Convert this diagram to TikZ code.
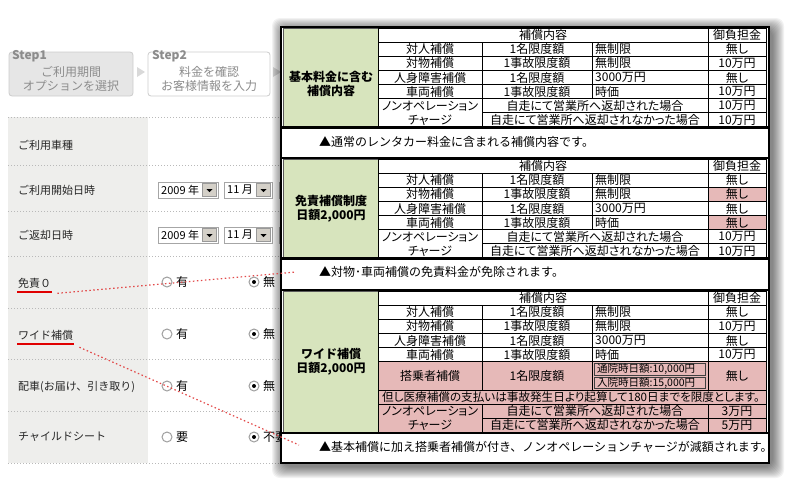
\documentclass[tikz,border=0pt]{standalone}
\usepackage{fontspec}
\setmainfont{Noto Sans CJK JP}
\newfontfamily\tabfont[RawFeature=+palt]{Noto Sans CJK JP}
\definecolor{greencell}{HTML}{D7E4BD}
\definecolor{pinkcell}{HTML}{E6B9B8}
\definecolor{formgray}{HTML}{EEEEEC}
\definecolor{stepfill}{HTML}{E6E6E6}
\definecolor{steptext}{HTML}{8C8C8C}
\definecolor{ulred}{HTML}{E00000}
\definecolor{dotred}{HTML}{E24A4A}
\definecolor{btngray}{HTML}{D4D0C8}
\tikzset{
  cell/.style={draw=black,line width=0.9pt},
  txt/.style={font=\tabfont\fontsize{12}{14}\selectfont,inner sep=0pt},
  small/.style={font=\tabfont\fontsize{10.5}{12}\selectfont,inner sep=0pt,anchor=west},
  side/.style={font=\bfseries\fontsize{12}{14}\selectfont,align=center,inner sep=0pt},
  note/.style={font=\fontsize{12}{14}\selectfont,inner sep=0pt,anchor=west},
  lbl/.style={font=\fontsize{11}{13}\selectfont,inner sep=1pt,anchor=west,text=black!85},
  opt/.style={font=\fontsize{12}{14}\selectfont,inner sep=0pt,anchor=west},
  radio/.style={draw=gray!75,fill=white,line width=1pt},
  stepbox/.style={draw=gray!40,line width=0.8pt,rounded corners=3pt},
  steptag/.style={font=\bfseries\fontsize{12}{13}\selectfont,text=steptext,inner sep=0pt,anchor=west},
  steplbl/.style={font=\fontsize{12}{14}\selectfont,text=steptext,align=center,inner sep=0pt},
  dotline/.style={gray!55,dash pattern=on 1pt off 2pt,line width=0.6pt},
  uline/.style={ulred,line width=1.8pt},
  reddots/.style={dotred,line width=1.2pt,dash pattern=on 1.5pt off 2.5pt},
}
\begin{document}
\begin{tikzpicture}[x=1pt,y=-1pt]
\useasboundingbox (0,0) rectangle (787,482);
\def\rowh{14.15}

% steps
\draw[stepbox,fill=stepfill] (9,52) rectangle (133,96);
\draw[stepbox,fill=white] (148,52) rectangle (270,96);
\fill[gray!30] (137,67) -- (145,72) -- (137,77) -- cycle;
\fill[gray!30] (273,67) -- (281,72) -- (273,77) -- cycle;
\node[steptag] (st1) at (12,56) {Step1};
\node[steplbl] (st1txt) at (71,79) {ご利用期間\\オプションを選択};
\node[steptag] (st2) at (152,56) {Step2};
\node[steplbl] (st2txt) at (209,79) {料金を確認\\お客様情報を入力};

% form
\fill[formgray] (8,117) rectangle (148,463);
\foreach \y in {117,165,211,256,308,359,411,463}
  \draw[dotline] (8,\y) -- (281,\y);
\foreach \y/\n/\t in {145/car/ご利用車種, 190/start/ご利用開始日時, 235/back/ご返却日時, 283/menseki/免責０, 335/wide/ワイド補償, 387/haisha/配車(お届け、引き取り), 437/child/チャイルドシート}
  \node[lbl] (\n) at (17,\y) {\t};

% drop-downs
\foreach \y/\n in {190/s,235/e}{
  \draw[gray!70,fill=white,line width=1pt] (158,\y-8) rectangle (218,\y+8);
  \draw[gray!80,fill=btngray] (202.5,\y-6.5) rectangle (216.5,\y+6.5);
  \fill (206.5,\y-1) -- (212.5,\y-1) -- (209.5,\y+2) -- cycle;
  \node[opt,font=\fontsize{11}{13}\selectfont] (\n-year) at (161,\y) {2009 年};
  \draw[gray!70,fill=white,line width=1pt] (224,\y-8) rectangle (272,\y+8);
  \draw[gray!80,fill=btngray] (256.5,\y-6.5) rectangle (270.5,\y+6.5);
  \fill (260.5,\y-1) -- (266.5,\y-1) -- (263.5,\y+2) -- cycle;
  \node[opt,font=\fontsize{11}{13}\selectfont] (\n-month) at (227,\y) {11 月};
  \draw[gray!70,fill=white,line width=1pt] (279,\y-8) rectangle (320,\y+8);
}

% radio buttons
\foreach \y/\n/\a/\b in {282/m/有/無, 334/w/有/無, 386/h/有/無, 437/c/要/不要}{
  \draw[radio] (167,\y) circle (5pt);
  \node[opt] (\n-yes) at (176,\y) {\a};
  \draw[radio] (254,\y) circle (5pt);
  \fill (254,\y) circle (2pt);
  \node[opt] (\n-no) at (263,\y) {\b};
}

% panel and its shadow
\foreach \s in {1,...,12}
  \fill[black,opacity=0.05,rounded corners=8pt] (284-\s,30-\s) rectangle (772+\s,466+\s);
\fill[white] (281,27) rectangle (769,463);

% side cells
\draw[fill=greencell,draw=gray!70!black,line width=0.6pt] (283.5,28.5) rectangle (378,127);
\draw[fill=greencell,draw=gray!70!black,line width=0.6pt] (283.5,159) rectangle (378,258);
\draw[fill=greencell,draw=gray!70!black,line width=0.6pt] (283.5,291) rectangle (378,432.5);
\node[side] (side-a) at (331,84) {基本料金に含む\\補償内容};
\node[side] (side-b) at (331,209) {免責補償制度\\日額2,000円};
\node[side] (side-c) at (331,362) {ワイド補償\\日額2,000円};

% head and basic rows
\foreach \T/\s in {28/a,159/b,291/c}{
  \draw[cell,fill=white] (378,\T) rectangle (708,\T+\rowh);
  \draw[cell,fill=white] (708,\T) rectangle (766,\T+\rowh);
  \node[txt] (\s-head) at (543,\T+\rowh/2) {補償内容};
  \node[txt] (\s-pay) at (737,\T+\rowh/2) {御負担金};
  \foreach \i/\ka/\kb/\kc in {1/対人補償/1名限度額/無制限, 2/対物補償/1事故限度額/無制限, 3/人身障害補償/1名限度額/3000万円, 4/車両補償/1事故限度額/時価}{
    \draw[cell] (378,\T+\i*\rowh) rectangle (482,\T+\i*\rowh+\rowh);
    \draw[cell] (482,\T+\i*\rowh) rectangle (592,\T+\i*\rowh+\rowh);
    \draw[cell] (592,\T+\i*\rowh) rectangle (708,\T+\i*\rowh+\rowh);
    \node[txt] (\s\i-item) at (430,\T+\i*\rowh+\rowh/2) {\ka};
    \node[txt] (\s\i-limit) at (537,\T+\i*\rowh+\rowh/2) {\kb};
    \node[txt,anchor=west] (\s\i-amount) at (595,\T+\i*\rowh+\rowh/2) {\kc};
  }
}
\foreach \T/\s/\f/\v in {28/a/white/10万円, 159/b/pinkcell/無し, 291/c/white/10万円}{
  \foreach \i in {1,3}{
    \draw[cell] (708,\T+\i*\rowh) rectangle (766,\T+\i*\rowh+\rowh);
    \node[txt] (\s\i-pay) at (737,\T+\i*\rowh+\rowh/2) {無し};
  }
  \foreach \i in {2,4}{
    \draw[cell,fill=\f] (708,\T+\i*\rowh) rectangle (766,\T+\i*\rowh+\rowh);
    \node[txt] (\s\i-pay) at (737,\T+\i*\rowh+\rowh/2) {\v};
  }
}

% rider row, wide only
\draw[cell,fill=pinkcell] (378,361.75) rectangle (482,390.05);
\draw[cell,fill=pinkcell] (482,361.75) rectangle (592,390.05);
\draw[cell,fill=pinkcell] (592,361.75) rectangle (708,390.05);
\draw[cell,fill=pinkcell] (708,361.75) rectangle (766,390.05);
\draw[draw=black!75,line width=0.6pt,fill=pinkcell] (594.5,363.5) rectangle (705.5,375.5);
\draw[draw=black!75,line width=0.6pt,fill=pinkcell] (594.5,377) rectangle (705.5,388.5);
\node[txt] (c-rider) at (430,375.9) {搭乗者補償};
\node[txt] (c-rlimit) at (537,375.9) {1名限度額};
\node[small] (c-visit) at (597,369.5) {通院時日額:10,000円};
\node[small] (c-stay) at (597,382.7) {入院時日額:15,000円};
\node[txt] (c-rpay) at (737,375.9) {無し};
\draw[cell,fill=pinkcell] (378,390.05) rectangle (766,404.2);
\node[txt,anchor=west,font=\tabfont\fontsize{11.6}{13}\selectfont] (c-med) at (382,397.1) {但し医療補償の支払いは事故発生日より起算して180日までを限度とします。};

% non-operation charge rows
\foreach \Y/\s/\f/\va/\vb in {98.75/a/white/10万円/10万円, 229.75/b/white/10万円/10万円, 404.2/c/pinkcell/3万円/5万円}{
  \draw[cell,fill=\f] (378,\Y) rectangle (482,\Y+2*\rowh);
  \draw[cell,fill=\f] (482,\Y) rectangle (708,\Y+\rowh);
  \draw[cell,fill=\f] (482,\Y+\rowh) rectangle (708,\Y+2*\rowh);
  \draw[cell,fill=\f] (708,\Y) rectangle (766,\Y+\rowh);
  \draw[cell,fill=\f] (708,\Y+\rowh) rectangle (766,\Y+2*\rowh);
  \node[txt] (\s-non1) at (430,\Y+\rowh/2) {ノンオペレーション};
  \node[txt] (\s-non2) at (430,\Y+1.5*\rowh) {チャージ};
  \node[txt] (\s-ret) at (595,\Y+\rowh/2) {自走にて営業所へ返却された場合};
  \node[txt] (\s-noret) at (595,\Y+1.5*\rowh) {自走にて営業所へ返却されなかった場合};
  \node[txt] (\s-c1) at (737,\Y+\rowh/2) {\va};
  \node[txt] (\s-c2) at (737,\Y+1.5*\rowh) {\vb};
}

% notes
\node[note] (note-a) at (319,142) {▲通常のレンタカー料金に含まれる補償内容です。};
\node[note] (note-b) at (319,272) {▲対物･車両補償の免責料金が免除されます。};
\node[note] (note-c) at (319,447) {▲基本補償に加え搭乗者補償が付き、ノンオペレーションチャージが減額されます。};

% thick rules
\foreach \y in {127.6,158,258.6,290,433}
  \draw[line width=2.5pt] (281,\y) -- (769,\y);
\draw[line width=2.5pt] (281,27) rectangle (769,463);

% red marks
\draw[uline] ([yshift=-3pt]menseki.south west) -- ([yshift=-3pt]menseki.south east) coordinate (ul-m);
\draw[uline] ([yshift=-3pt]wide.south west) -- ([yshift=-3pt]wide.south east) coordinate (ul-w);
\coordinate (tip-m) at (296,272);
\coordinate (tip-w) at (299,445);
\draw[reddots] ([xshift=5pt,yshift=-1pt]ul-m) -- (tip-m);
\draw[reddots] ([xshift=5pt,yshift=-3pt]ul-w) -- (tip-w);
\end{tikzpicture}
\end{document}
